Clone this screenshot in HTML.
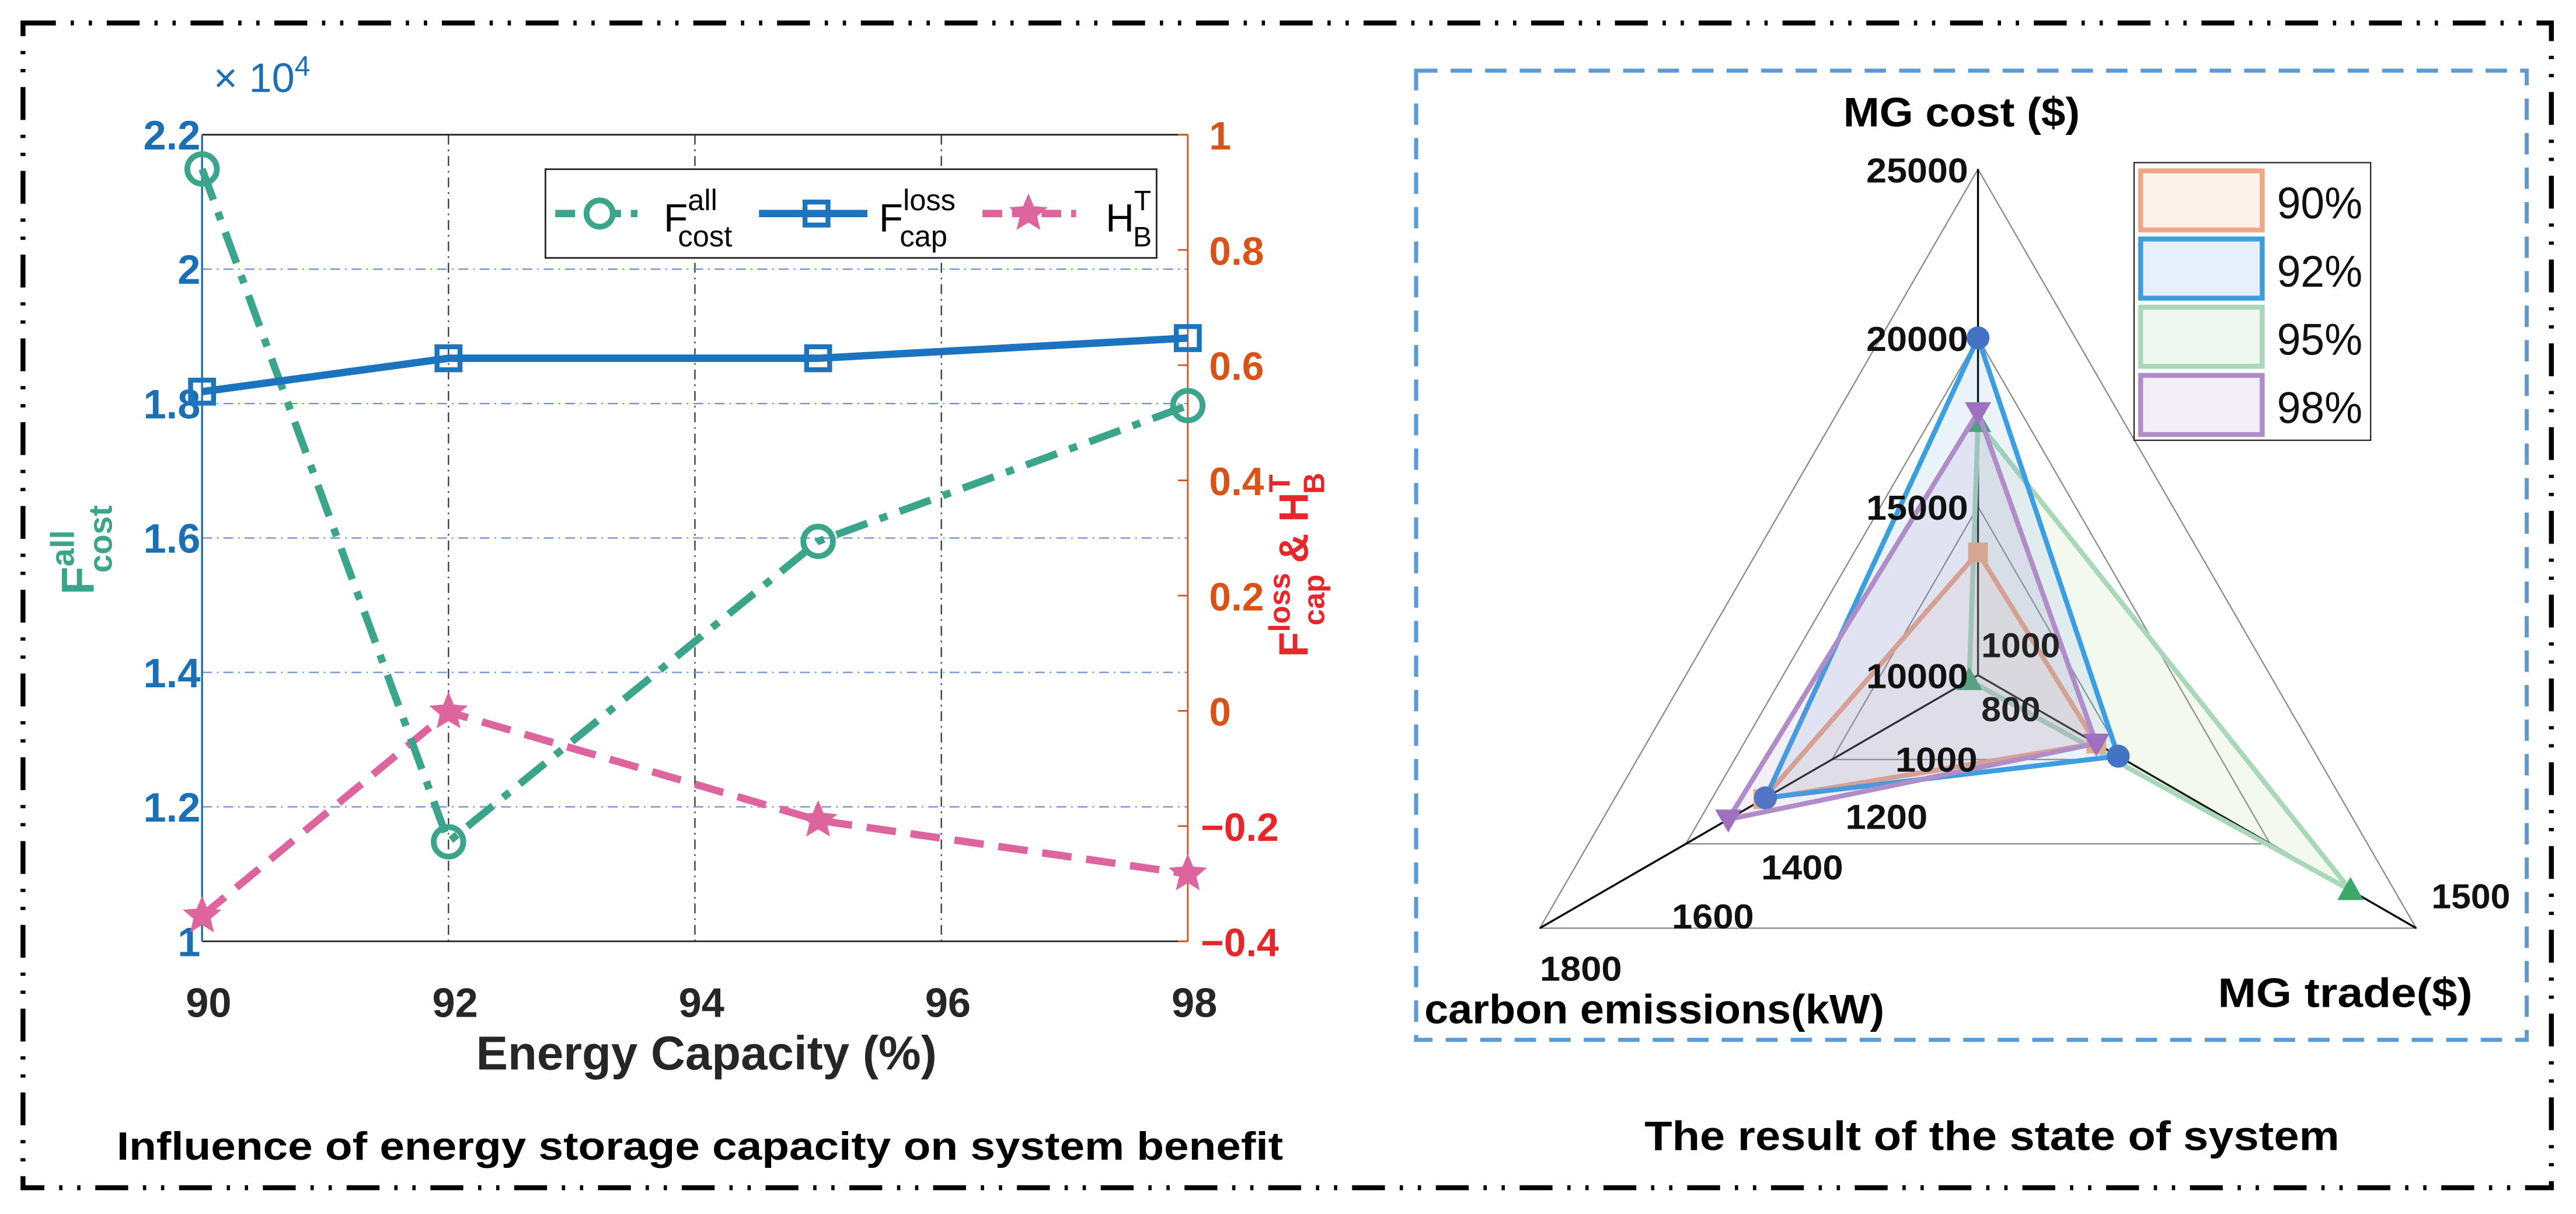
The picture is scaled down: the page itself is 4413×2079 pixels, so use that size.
<!DOCTYPE html>
<html><head><meta charset="utf-8"><style>
html,body{margin:0;padding:0;background:#fff;}
svg{display:block;font-family:"Liberation Sans",sans-serif;}
</style></head><body>
<svg id="fig" width="4413" height="2079" viewBox="0 0 1568 739" preserveAspectRatio="none">
<rect x="14" y="14" width="1539" height="709" fill="none" stroke="#000" stroke-width="3" stroke-dasharray="20 9 2 9 2 9"/>
<g id="left"></g>
<g id="right"></g>
</svg>
<script>
// ---- Left chart data ----
const capacities=[90,92,95,98];
const fAllCost=[2.149,1.148,1.595,1.797];
const fLossCap=[0.554,0.612,0.612,0.647];
const hBT=[-0.356,-0.002,-0.19,-0.283];
const xTicks=[90,92,94,96,98];
const yLeftTicks=[1,1.2,1.4,1.6,1.8,2,2.2];
const yLeftLabels=["1","1.2","1.4","1.6","1.8","2","2.2"];
const yRightTicks=[-0.4,-0.2,0,0.2,0.4,0.6,0.8,1];
const yRightLabels=["\u22120.4","\u22120.2","0","0.2","0.4","0.6","0.8","1"];
// ---- Radar data ----
const radarSeries=["90%","92%","95%","98%"];
const radarCost=[13640,20000,17500,17800];
const radarTrade=[770,820,1350,770];
const radarCarbon=[1290,1285,820,1370];
const costTickLabels=["10000","15000","20000","25000"];
const carbonTickLabels=["1000","1200","1400","1600","1800"];

const NS="http://www.w3.org/2000/svg";
function mk(parent,tag,attrs,text){const e=document.createElementNS(NS,tag);for(const k in attrs)e.setAttribute(k,attrs[k]);if(text!==undefined)e.textContent=text;parent.appendChild(e);return e;}

const L=document.getElementById('left');
const X0=123,X1=723,YT=82,YB=573;
const xS=v=>X0+(v-90)/8*(X1-X0);
const yL=v=>YB-(v-1)/1.2*(YB-YT);
const yR=v=>YB-(v+0.4)/1.4*(YB-YT);

xTicks.slice(1,4).forEach(t=>{const e=mk(L,'line',{x1:xS(t),x2:xS(t),y1:YT,y2:YB,stroke:'#333','stroke-width':0.8,'stroke-dasharray':'6 3 1 3'});

});
yLeftTicks.slice(1,6).forEach(t=>{const e=mk(L,'line',{x1:X0,x2:X1,y1:yL(t),y2:yL(t),stroke:'#6e8fd8','stroke-width':0.8,'stroke-dasharray':'6 3 1 3'});

});
let ax=mk(L,'line',{x1:X0,x2:X1,y1:YT,y2:YT,stroke:'#222','stroke-width':1});

ax=mk(L,'line',{x1:X0,x2:X1,y1:YB,y2:YB,stroke:'#222','stroke-width':1});

ax=mk(L,'line',{x1:X0,x2:X0,y1:YT,y2:YB,stroke:'#1a6fb5','stroke-width':1.2});

ax=mk(L,'line',{x1:X1,x2:X1,y1:YT,y2:YB,stroke:'#D95319','stroke-width':1});

xTicks.forEach(t=>{const e=mk(L,'text',{x:xS(t)+4,y:619,'text-anchor':'middle','font-size':25,'font-weight':'bold',fill:'#262626'},String(t));
});
yLeftTicks.forEach((t,i)=>{const e=mk(L,'text',{x:122,y:yL(t)+9,'text-anchor':'end','font-size':25,'font-weight':'bold',fill:'#1a6fb5'},yLeftLabels[i]);
});
yRightTicks.forEach((t,i)=>{
const tk=mk(L,'line',{x1:X1-6,x2:X1,y1:yR(t),y2:yR(t),stroke:'#D95319','stroke-width':1});

const e=mk(L,'text',{x:t<0?731:736,y:yR(t)+9,'font-size':24,'font-weight':'bold',fill:t<0?'#e8262a':'#D95319'},yRightLabels[i]);
});
let t=mk(L,'text',{x:130,y:56,'font-size':25,fill:'#1a6fb5'},'');
t.innerHTML='<tspan>× 10</tspan><tspan dy="-10" font-size="17">4</tspan>';

t=mk(L,'text',{x:430,y:651,'text-anchor':'middle','font-size':29,'font-weight':'bold',fill:'#262626'},'Energy Capacity (%)');

t=mk(L,'text',{x:71,y:706,'font-size':24,'font-weight':'bold',fill:'#000','textLength':710,'lengthAdjust':'spacingAndGlyphs'},'Influence of energy storage capacity on system benefit');

t=mk(L,'text',{transform:'translate(57,362) rotate(-90)','font-size':28,'font-weight':'bold',fill:'#3aa58a'},'');
t.innerHTML='F<tspan dy="-12" font-size="20">all</tspan><tspan dx="-26" dy="23" font-size="20">cost</tspan>';

t=mk(L,'text',{transform:'translate(796,400) rotate(-90)','font-size':25,'font-weight':'bold',fill:'#e8262a'},'');
t.innerHTML='F<tspan dy="-11" font-size="18">loss</tspan><tspan dx="-32" dy="21" font-size="18">cap</tspan><tspan dy="-10"> &amp; H</tspan><tspan dy="-11" font-size="18">T</tspan><tspan dx="-12" dy="21" font-size="18">B</tspan>';


function star(g,cx,cy,r,fill){let p=[];for(let i=0;i<10;i++){const a=-Math.PI/2+i*Math.PI/5;const rr=i%2?r*0.45:r;p.push((cx+rr*Math.cos(a)).toFixed(1)+','+(cy+rr*Math.sin(a)).toFixed(1));}return mk(g,'polygon',{points:p.join(' '),fill:fill,stroke:fill});}
function series(vals,yf,color,dash,name,marker){
const pts=capacities.map((c,i)=>xS(c)+','+yf(vals[i])).join(' ');
const pl=mk(L,'polyline',{points:pts,fill:'none',stroke:color,'stroke-width':4.5,'stroke-dasharray':dash});

capacities.forEach((c,i)=>{const x=xS(c),y=yf(vals[i]);let m;
if(marker==='o')m=mk(L,'circle',{cx:x,cy:y,r:9,fill:'none',stroke:color,'stroke-width':3.5});
else if(marker==='s')m=mk(L,'rect',{x:x-7,y:y-7,width:14,height:14,fill:'none',stroke:color,'stroke-width':3});
else m=star(L,x,y,11,color);
});}
series(hBT,yR,'#de649e','18 9','hb-t','*');
series(fAllCost,yL,'#3aa58a','20 8 5 8','f-all-cost','o');
series(fLossCap,yR,'#1c74bf','','f-loss-cap','s');
const lg=mk(L,'g',{});
mk(lg,'rect',{x:332,y:103,width:372,height:54,fill:'#fff',stroke:'#222','stroke-width':1});
mk(lg,'line',{x1:338,x2:392,y1:130,y2:130,stroke:'#3aa58a','stroke-width':4.5,'stroke-dasharray':'12 6 4 6'});
mk(lg,'circle',{cx:365,cy:130,r:8,fill:'#fff',stroke:'#3aa58a','stroke-width':3.5});
let lt=mk(lg,'text',{x:404,y:141,'font-size':24,fill:'#000'},'');lt.innerHTML='F<tspan dy="-13" font-size="18">all</tspan><tspan dx="-24" dy="22" font-size="18">cost</tspan>';

mk(lg,'line',{x1:462,x2:528,y1:130,y2:130,stroke:'#1c74bf','stroke-width':4.5});
mk(lg,'rect',{x:490,y:123,width:14,height:14,fill:'none',stroke:'#1c74bf','stroke-width':3});
lt=mk(lg,'text',{x:535,y:141,'font-size':24,fill:'#000'},'');lt.innerHTML='F<tspan dy="-13" font-size="18">loss</tspan><tspan dx="-34" dy="22" font-size="18">cap</tspan>';

mk(lg,'line',{x1:598,x2:655,y1:130,y2:130,stroke:'#de649e','stroke-width':4.5,'stroke-dasharray':'12 6'});
star(lg,626,130,11,'#de649e');
lt=mk(lg,'text',{x:673,y:141,'font-size':24,fill:'#000'},'');lt.innerHTML='H<tspan dy="-13" font-size="17">T</tspan><tspan dx="-11" dy="22" font-size="17">B</tspan>';


// ---- Radar ----
const R=document.getElementById('right');
let b=mk(R,'rect',{x:862,y:43,width:676,height:590,fill:'none',stroke:'#5b9bd5','stroke-width':2.5,'stroke-dasharray':'13 8'});

const CX=1204,CY=411,RAD=308;
const dirs=[[0,-1],[0.866,0.5],[-0.866,0.5]];
const rCost=v=>(v-10000)/15000,rTrade=v=>(v-500)/1000,rCarb=v=>(v-800)/1000;
const pt=(k,r)=>[CX+dirs[k][0]*r*RAD,CY+dirs[k][1]*r*RAD];
[1/3,2/3,1].forEach(f=>{const p=[0,1,2].map(k=>pt(k,f).join(',')).join(' ');
const e=mk(R,'polygon',{points:p,fill:'none',stroke:'#888','stroke-width':0.8});
});
[0,1,2].forEach(k=>{const p=pt(k,1);const e=mk(R,'line',{x1:CX,y1:CY,x2:p[0],y2:p[1],stroke:'#000','stroke-width':1.2});
});
const colors=['#f0a884','#3b9ee0','#a8d8b8','#b08cc8'];
const fills=['rgba(244,177,131,0.10)','rgba(91,155,213,0.13)','rgba(169,209,142,0.13)','rgba(160,130,190,0.13)'];
const mcol=['#f0b080','#4472c4','#3aa86a','#a070c0'];
const order=[2,0,1,3];
order.forEach(i=>{const ps=[pt(0,rCost(radarCost[i])),pt(1,rTrade(radarTrade[i])),pt(2,rCarb(radarCarbon[i]))];
const pg=mk(R,'polygon',{points:ps.map(p=>p.join(',')).join(' '),fill:fills[i],stroke:colors[i],'stroke-width':3});

ps.forEach(p=>{let m;
if(i===0)m=mk(R,'rect',{x:p[0]-6,y:p[1]-6,width:12,height:12,fill:mcol[i]});
else if(i===1)m=mk(R,'circle',{cx:p[0],cy:p[1],r:7,fill:mcol[i]});
else if(i===2)m=mk(R,'polygon',{points:`${p[0]},${p[1]-8} ${p[0]-8},${p[1]+6} ${p[0]+8},${p[1]+6}`,fill:mcol[i]});
else m=mk(R,'polygon',{points:`${p[0]},${p[1]+8} ${p[0]-8},${p[1]-6} ${p[0]+8},${p[1]-6}`,fill:mcol[i]});
});});
costTickLabels.forEach((s,i)=>{const e=mk(R,'text',{x:1198,y:CY-i/3*RAD+8,'text-anchor':'end','font-size':21,'font-weight':'bold',fill:'#111','textLength':62,'lengthAdjust':'spacingAndGlyphs'},s);
});
const carbonLabelDx=[3,26,28,27,0],carbonLabelDy=[28,32,32,31,32];
carbonTickLabels.forEach((s,i)=>{const r=0.2+i*0.2;const e=mk(R,'text',{x:CX-0.866*r*RAD+carbonLabelDx[i],y:CY+0.5*r*RAD+carbonLabelDy[i],'font-size':21,'font-weight':'bold',fill:'#111','textLength':50,'lengthAdjust':'spacingAndGlyphs'},s);
});
let tl=mk(R,'text',{x:1206,y:400,'font-size':21,'font-weight':'bold',fill:'#222','textLength':48,'lengthAdjust':'spacingAndGlyphs'},'1000');
tl=mk(R,'text',{x:1206,y:439,'font-size':21,'font-weight':'bold',fill:'#222','textLength':36,'lengthAdjust':'spacingAndGlyphs'},'800');
tl=mk(R,'text',{x:1480,y:553,'font-size':21,'font-weight':'bold',fill:'#111','textLength':48,'lengthAdjust':'spacingAndGlyphs'},'1500');
tl=mk(R,'text',{x:1122,y:77,'font-size':25,'font-weight':'bold',fill:'#000','textLength':144,'lengthAdjust':'spacingAndGlyphs'},'MG cost ($)');
tl=mk(R,'text',{x:867,y:623,'font-size':25,'font-weight':'bold',fill:'#000','textLength':280,'lengthAdjust':'spacingAndGlyphs'},'carbon emissions(kW)');
tl=mk(R,'text',{x:1350,y:613,'font-size':25,'font-weight':'bold',fill:'#000','textLength':155,'lengthAdjust':'spacingAndGlyphs'},'MG trade($)');
tl=mk(R,'text',{x:1001,y:700,'font-size':25,'font-weight':'bold',fill:'#000','textLength':423,'lengthAdjust':'spacingAndGlyphs'},'The result of the state of  system');
const rl=mk(R,'g',{});
mk(rl,'rect',{x:1299,y:99,width:144,height:169,fill:'#fff',stroke:'#222','stroke-width':0.8});
const lfill=['#fdf3ec','#e6f0fa','#eff7f1','#f1eef6'];
radarSeries.forEach((s,i)=>{const y=104+i*41.5;
const sw=mk(rl,'rect',{x:1303,y:y,width:74,height:36,fill:lfill[i],stroke:colors[i],'stroke-width':3});

const e=mk(rl,'text',{x:1386,y:y+29,'font-size':27,fill:'#111','textLength':52,'lengthAdjust':'spacingAndGlyphs'},s);
});
</script>
</body></html>
